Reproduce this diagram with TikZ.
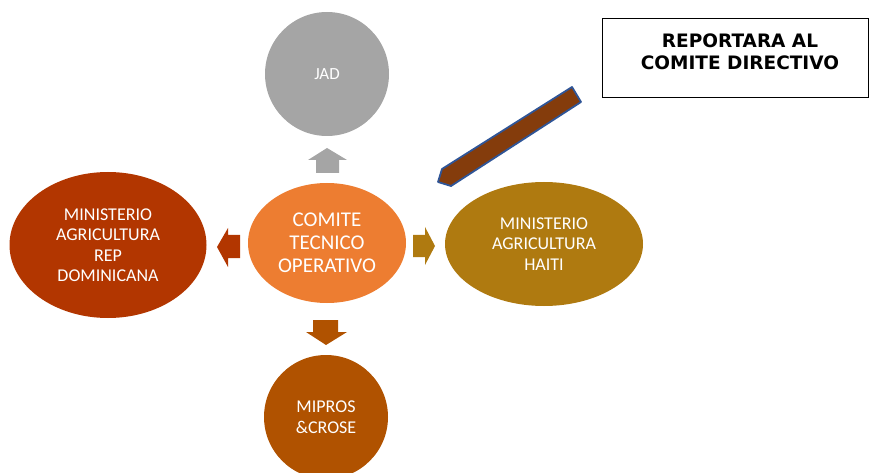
\documentclass[tikz,border=0pt]{standalone}
\usepackage{fontspec}
\usetikzlibrary{shapes.geometric}
\setmainfont{Carlito}
\newfontfamily\boxfont{DejaVu Sans}
\definecolor{cgray}{HTML}{A5A5A5}
\definecolor{corange}{HTML}{ED7D31}
\definecolor{cred}{HTML}{B23600}
\definecolor{cgold}{HTML}{AF7A10}
\definecolor{cbrown}{HTML}{B05200}
\definecolor{cpencil}{HTML}{843C0C}
\definecolor{cblue}{HTML}{2F5597}
\begin{document}
\begin{tikzpicture}[x=1pt,y=-1pt,
  blob/.style={ellipse, inner sep=0pt, text=white, align=center}]
\useasboundingbox (0,0) rectangle (870,473);
\begin{scope}
\clip (0,0) rectangle (870,473);
% nodes
\node[blob, fill=cgray, minimum width=124pt, minimum height=124pt, font=\fontsize{17}{20}\selectfont] (jad) at (327,74) {JAD};
\node[blob, fill=corange, minimum width=158pt, minimum height=120pt, font=\fontsize{21}{23}\selectfont] (cto) at (327,243) {COMITE\\TECNICO\\OPERATIVO};
\node[blob, fill=cred, minimum width=197pt, minimum height=146pt, font=\fontsize{18}{20.5}\selectfont] (rd) at (108,245) {MINISTERIO\\AGRICULTURA\\REP\\DOMINICANA};
\node[blob, fill=cgold, minimum width=198pt, minimum height=124pt, font=\fontsize{18}{20.5}\selectfont] (ht) at (544,244) {MINISTERIO\\AGRICULTURA\\HAITI};
\node[blob, fill=cbrown, minimum width=124pt, minimum height=124pt, font=\fontsize{18}{20.5}\selectfont] (mip) at (326,417) {MIPROS\\\&CROSE};
\end{scope}
% block arrows
\fill[cgray] (327,148) -- (347,160) -- (339,160) -- (339,173) -- (316,173) -- (316,160) -- (308,160) -- cycle;
\fill[cbrown] (326,345) -- (347,332) -- (338,332) -- (338,320) -- (313,320) -- (313,332) -- (306,332) -- cycle;
\fill[cred] (217,247) -- (228,228) -- (228,235) -- (240,235) -- (240,258) -- (228,258) -- (228,267) -- cycle;
\fill[cgold] (435,246) -- (425,227) -- (425,235) -- (413,235) -- (413,257) -- (425,257) -- (425,265) -- cycle;
% pencil arrow
\filldraw[fill=cpencil, draw=cblue, line width=1.8pt, line join=round]
  (572,87) -- (581,102) -- (451,186) -- (438,182) -- (442,169) -- cycle;
% report box
\node[draw=black, line width=0.9pt, minimum width=266pt, minimum height=79pt, inner sep=0pt] (rep) at (735,57.5) {};
\node[font=\boxfont\bfseries\fontsize{18.5}{22.5}\selectfont, align=center, inner sep=0pt] (reptxt) at (740,52) {REPORTARA AL\\COMITE DIRECTIVO};
\end{tikzpicture}
\end{document}
